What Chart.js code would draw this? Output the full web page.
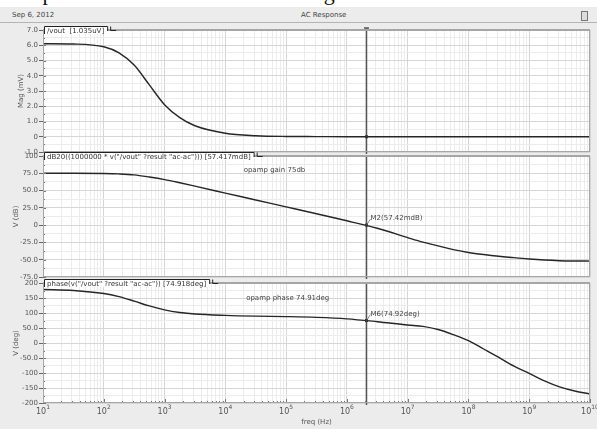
<!DOCTYPE html>
<html>
<head>
<meta charset="utf-8">
<script src="https://cdn.jsdelivr.net/npm/chart.js@4.4.1/dist/chart.umd.min.js"></script>
<style>
  html, body { margin: 0; padding: 0; }
  body {
    width: 597px; height: 429px; position: relative; overflow: hidden;
    background: #ececec; font-family: "DejaVu Sans", sans-serif;
  }
  #doc-text { position: absolute; left: 0; top: 0; width: 597px; height: 7px; background: #fff; overflow: hidden; }
  #doc-text span { position: absolute; left: -2px; top: -18px; font: 22px/22px "Liberation Serif", serif; color: #111; white-space: nowrap; }
  #hdr { position: absolute; left: 0; top: 7px; width: 597px; height: 15px; border-bottom: 1px solid #b4b4b4; }
  #hdr .date { position: absolute; left: 12px; top: 4px; font-size: 7px; color: #444; }
  #hdr .title { position: absolute; left: 301px; top: 4px; font-size: 7px; color: #444; }
  #hdr .btn { position: absolute; left: 581px; top: 4px; width: 5px; height: 8px; border: 1px solid #777; background: #ddd; }
  canvas { position: absolute; left: 0; }
</style>
</head>
<body>
<div id="doc-text"><span>hase plot are obtained as shown in Figure 5.</span></div>
<div id="hdr"><span class="date">Sep 6, 2012</span><span class="title">AC Response</span><span class="btn"></span></div>
<canvas id="magChart" width="597" height="136" style="top:22px"></canvas>
<canvas id="gainChart" width="597" height="136" style="top:148px"></canvas>
<canvas id="phaseChart" width="597" height="154" style="top:275px"></canvas>
<script>
// AC response of the opamp: magnitude, gain (dB) and phase vs frequency

const freqs = [10, 31.6, 100, 178, 316, 562, 1000, 1780, 3160, 1e4, 3.16e4, 1e5, 3.16e5,
  1e6, 3.16e6, 1e7, 1.78e7, 3.16e7, 5.62e7, 1e8, 1.78e8, 3.16e8, 5.62e8,
  1e9, 1.78e9, 3.16e9, 5.62e9, 1e10];
const magMv = [6.10, 6.08, 5.90, 5.50, 4.70, 3.40, 2.10, 1.25, 0.72, 0.23, 0.07, 0.02, 0.01,
  0.0, 0.0, 0.0, 0.0, 0.0, 0.0, 0.0, 0.0, 0.0, 0.0,
  0.0, 0.0, 0.0, 0.0, 0.0];
const gainDb = [75.0, 75.0, 74.7, 74.1, 72.7, 69.6, 65.9, 61.3, 56.4, 46.4, 36.4, 26.4, 16.4,
  6.3, -4.5, -18.0, -24.5, -30.0, -35.5, -39.5, -42.5, -45.0, -47.0,
  -49.0, -50.5, -51.4, -51.8, -52.0];
const phaseDeg = [178.5, 175.2, 165.0, 154.5, 139.7, 123.5, 110.5, 101.8, 96.7, 92.1, 89.5, 88.0, 85.5,
  80.5, 71.0, 60.0, 55.5, 45.0, 28.0, 8.0, -20.0, -48.0, -77.0,
  -101.0, -126.0, -146.0, -160.0, -170.0];

const magTicks = ["7.0", "6.0", "5.0", "4.0", "3.0", "2.0", "1.0", "0", "-1.0"];
const gainTicks = ["100", "75.0", "50.0", "25.0", "0", "-25.0", "-50.0", "-75.0"];
const phaseTicks = ["200", "150", "100", "50.0", "0", "-50.0", "-100", "-150", "-200"];
const decadeExps = ["1", "2", "3", "4", "5", "6", "7", "8", "9", "10"];

// marker M2/M6 position and the values it reads
const markerFreq = 2.1e6;
const markerMag = 0.001035;   // 1.035uV in mV
const markerGain = 0.05742;   // 57.42mdB
const markerPhase = 74.92;

const FONT = '"DejaVu Sans", sans-serif';

function toPoints(ys) {
  return freqs.map((f, i) => ({ x: f, y: ys[i] }));
}

function xTicks() {
  const out = [];
  decadeExps.forEach((e, i) => {
    const base = Math.pow(10, Number(e));
    out.push({ value: base, minor: false });
    if (i < decadeExps.length - 1) {
      for (let k = 2; k <= 9; k++) out.push({ value: k * base, minor: true });
    }
  });
  return out;
}

function yTicks(labels) {
  const vals = labels.map(Number);
  const step = vals[0] - vals[1];
  const out = [];
  vals.forEach((v, i) => {
    out.push({ value: v, minor: false });
    if (i < vals.length - 1) out.push({ value: v - step / 2, minor: true });
  });
  return out;
}

function labelFor(labels, v) {
  const l = labels.find(s => Math.abs(Number(s) - v) < 1e-9);
  return l === undefined ? "" : l;
}

const gridColor = c => (c.tick && c.tick.minor ? "#ececec" : "#d6d6d6");

const panelPlugin = {
  id: "panel",
  beforeDraw(chart) {
    const a = chart.chartArea, ctx = chart.ctx;
    ctx.save();
    ctx.fillStyle = "#fff";
    ctx.fillRect(a.left, a.top, a.right - a.left, a.bottom - a.top);
    ctx.restore();
  },
  afterDatasetsDraw(chart, args, opts) {
    const a = chart.chartArea, ctx = chart.ctx;
    const xs = chart.scales.x, ys = chart.scales.y;
    ctx.save();

    // small ruler marks inside the axes
    ctx.strokeStyle = "#777";
    ctx.lineWidth = 1;
    ys.ticks.forEach(t => {
      const y = Math.round(ys.getPixelForValue(t.value)) + 0.5;
      ctx.beginPath();
      ctx.moveTo(a.left, y);
      ctx.lineTo(a.left + (t.minor ? 2 : 3), y);
      ctx.stroke();
    });
    if (opts.xAxis) {
      xs.ticks.forEach(t => {
        const x = Math.round(xs.getPixelForValue(t.value)) + 0.5;
        ctx.beginPath();
        ctx.moveTo(x, a.bottom);
        ctx.lineTo(x, a.bottom - (t.minor ? 2 : 4));
        ctx.stroke();
      });
    }

    // marker line
    const mx = Math.round(xs.getPixelForValue(markerFreq)) + 0.5;
    const my = ys.getPixelForValue(opts.markerValue);
    ctx.strokeStyle = "#555";
    ctx.lineWidth = 1.5;
    ctx.beginPath();
    ctx.moveTo(mx, opts.markerCap ? a.top - 2 : a.top);
    ctx.lineTo(mx, a.bottom + 2);
    ctx.stroke();
    if (opts.markerCap) {
      ctx.beginPath();
      ctx.moveTo(mx - 2.5, a.top - 2);
      ctx.lineTo(mx + 2.5, a.top - 2);
      ctx.stroke();
    }
    ctx.fillStyle = "#333";
    ctx.fillRect(mx - 1.5, my - 1.5, 3, 3);

    // marker readout
    ctx.font = "7px " + FONT;
    ctx.textBaseline = "alphabetic";
    ctx.textAlign = "left";
    if (opts.markerLabel) {
      ctx.strokeStyle = "#666";
      ctx.lineWidth = 0.8;
      ctx.beginPath();
      ctx.moveTo(mx, my);
      ctx.lineTo(mx + 4, my - 6);
      ctx.stroke();
      ctx.fillStyle = "#444";
      ctx.fillText(opts.markerLabel, mx + 4, my - 5);
    }

    // free text notes
    (opts.notes || []).forEach(n => {
      ctx.fillStyle = "#444";
      ctx.textBaseline = "middle";
      ctx.fillText(n.text, xs.getPixelForValue(n.x), ys.getPixelForValue(n.y));
    });

    // panel frame
    ctx.strokeStyle = "#a6a6a6";
    ctx.lineWidth = 1;
    ctx.strokeRect(a.left + 0.5, a.top + 0.5, a.right - a.left - 1, a.bottom - a.top - 1);
    ctx.lineWidth = 2;
    ctx.beginPath();
    ctx.moveTo(a.left, a.top);
    ctx.lineTo(a.right, a.top);
    ctx.stroke();

    // trace tab on the top edge
    ctx.textBaseline = "alphabetic";
    const tw = ctx.measureText(opts.tab).width;
    const tx0 = a.left + 1, tx1 = a.left + tw + 7;
    ctx.fillStyle = "#fff";
    ctx.fillRect(tx0, a.top - 4, tx1 - tx0, 8);
    ctx.strokeStyle = "#222";
    ctx.lineWidth = 1;
    ctx.beginPath();
    ctx.moveTo(tx0 + 0.5, a.top + 4);
    ctx.lineTo(tx0 + 0.5, a.top - 3.5);
    ctx.lineTo(tx1 + 0.5, a.top - 3.5);
    ctx.lineTo(tx1 + 0.5, a.top + 1);
    ctx.moveTo(tx1 + 3.5, a.top - 3.5);
    ctx.lineTo(tx1 + 3.5, a.top + 0.5);
    ctx.lineTo(tx1 + 9, a.top + 0.5);
    ctx.stroke();
    ctx.fillStyle = "#333";
    ctx.fillText(opts.tab, tx0 + 3, a.top + 3);

    // y axis title
    ctx.save();
    ctx.translate(opts.titleX, (a.top + a.bottom) / 2);
    ctx.rotate(-Math.PI / 2);
    ctx.textAlign = "center";
    ctx.textBaseline = "middle";
    ctx.fillStyle = "#555";
    ctx.font = "7px " + FONT;
    ctx.fillText(opts.yTitle, 0, 0);
    ctx.restore();

    ctx.restore();
  },
  afterDraw(chart, args, opts) {
    if (!opts.xAxis) return;
    const a = chart.chartArea, ctx = chart.ctx, xs = chart.scales.x;
    ctx.save();
    ctx.fillStyle = "#555";
    ctx.textBaseline = "alphabetic";
    ctx.textAlign = "left";
    decadeExps.forEach(e => {
      const x = xs.getPixelForValue(Math.pow(10, Number(e)));
      ctx.font = "8px " + FONT;
      const wb = ctx.measureText("10").width;
      ctx.font = "6px " + FONT;
      const we = ctx.measureText(e).width;
      const x0 = x - (wb + we) / 2;
      ctx.font = "8px " + FONT;
      ctx.fillText("10", x0, a.bottom + 11);
      ctx.font = "6px " + FONT;
      ctx.fillText(e, x0 + wb, a.bottom + 6);
    });
    ctx.font = "7px " + FONT;
    ctx.textAlign = "center";
    ctx.fillText("freq (Hz)", (a.left + a.right) / 2, a.bottom + 21);
    ctx.restore();
  }
};

function makePanel(id, ys, tickLabels, padBottom, panelOpts) {
  const vals = tickLabels.map(Number);
  return new Chart(document.getElementById(id), {
    type: "line",
    data: {
      datasets: [{
        data: toPoints(ys),
        borderColor: "#262626",
        borderWidth: 1.4,
        pointRadius: 0,
        fill: false,
        cubicInterpolationMode: "monotone",
      }],
    },
    options: {
      responsive: false,
      animation: false,
      devicePixelRatio: 1,
      layout: { padding: { left: 0, right: 7, top: 8, bottom: padBottom } },
      plugins: {
        legend: { display: false },
        tooltip: { enabled: false },
        panel: panelOpts,
      },
      scales: {
        x: {
          type: "logarithmic",
          min: freqs[0],
          max: freqs[freqs.length - 1],
          afterBuildTicks: s => { s.ticks = xTicks(); },
          afterFit: s => { s.height = 0; },
          ticks: { display: false, autoSkip: false },
          grid: { color: gridColor, drawTicks: false },
          border: { display: false },
        },
        y: {
          min: vals[vals.length - 1],
          max: vals[0],
          afterBuildTicks: s => { s.ticks = yTicks(tickLabels); },
          afterFit: s => { s.width = 43; },
          ticks: {
            autoSkip: false,
            padding: 1,
            color: "#555",
            font: { family: "DejaVu Sans", size: 7 },
            callback: v => labelFor(tickLabels, v),
          },
          grid: {
            color: gridColor,
            tickLength: 4,
            tickColor: c => (c.tick && c.tick.minor ? "rgba(0,0,0,0)" : "#666"),
          },
          border: { display: false },
        },
      },
    },
    plugins: [panelPlugin],
  });
}

document.addEventListener("DOMContentLoaded", () => {
  makePanel("magChart", magMv, magTicks, 6, {
    tab: "/vout  [1.035uV]",
    yTitle: "Mag (mV)",
    titleX: 21,
    markerValue: markerMag,
    markerCap: true,
    notes: [],
  });

  makePanel("gainChart", gainDb, gainTicks, 7, {
    tab: 'dB20((1000000 * v("/vout" ?result "ac-ac"))) [57.417mdB]',
    yTitle: "V (dB)",
    titleX: 16,
    markerValue: markerGain,
    markerLabel: "M2(57.42mdB)",
    notes: [{ x: 2e4, y: 80, text: "opamp gain 75db" }],
  });

  makePanel("phaseChart", phaseDeg, phaseTicks, 26, {
    tab: 'phase(v("/vout" ?result "ac-ac")) [74.918deg]',
    yTitle: "V (deg)",
    titleX: 16,
    markerValue: markerPhase,
    markerLabel: "M6(74.92deg)",
    notes: [{ x: 2.2e4, y: 150, text: "opamp phase 74.91deg" }],
    xAxis: true,
  });
});
</script>
</body>
</html>
